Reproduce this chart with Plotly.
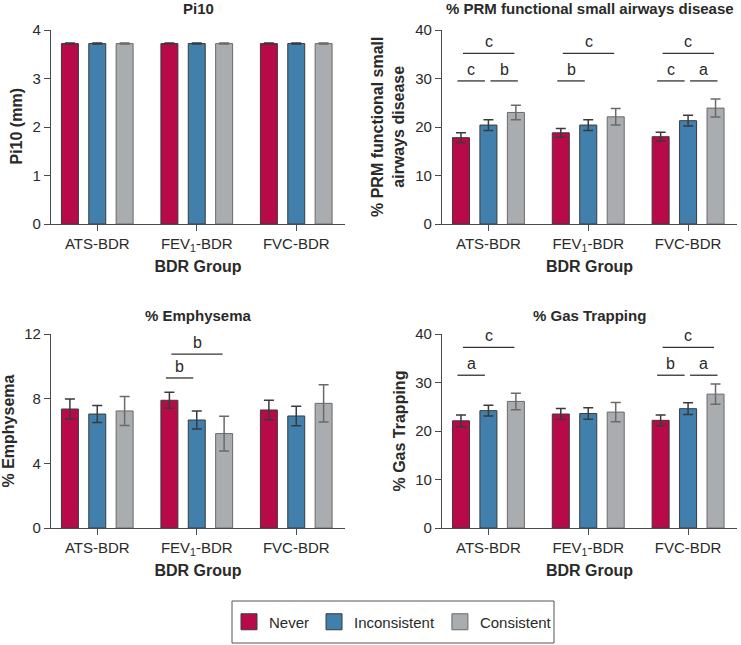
import plotly.graph_objects as go

groups = ["ATS-BDR", "FEV<sub>1</sub>-BDR", "FVC-BDR"]
series = ["Never", "Inconsistent", "Consistent"]
colors = ["#B80A48", "#4180AD", "#A9ADB0"]
line_colors = ["#3a3a3a", "#3a3a3a", "#6a6a6a"]

# values per series (Never, Inconsistent, Consistent) across groups
pi10_mean = [[3.72, 3.72, 3.72], [3.72, 3.72, 3.72], [3.72, 3.72, 3.72]]
pi10_err = [[0.01, 0.01, 0.01], [0.01, 0.01, 0.01], [0.01, 0.01, 0.01]]

prm_mean = [[17.8, 18.8, 18.0], [20.4, 20.4, 21.3], [23.0, 22.1, 23.9]]
prm_err = [[1.0, 0.9, 0.9], [1.1, 1.1, 1.1], [1.5, 1.7, 1.85]]

emph_mean = [[7.36, 7.9, 7.3], [7.05, 6.68, 6.93], [7.24, 5.84, 7.71]]
emph_err = [[0.62, 0.5, 0.6], [0.53, 0.55, 0.6], [0.9, 1.07, 1.15]]

gas_mean = [[22.1, 23.5, 22.2], [24.2, 23.6, 24.6], [26.1, 23.9, 27.6]]
gas_err = [[1.2, 1.15, 1.1], [1.1, 1.2, 1.2], [1.7, 2.0, 2.1]]

# significance brackets: (group index, from bar, to bar, y of line, letter)
prm_sig = [(0, 0, 1, 29.5, "c"), (0, 1, 2, 29.5, "b"), (0, 0, 2, 35.2, "c"),
           (1, 0, 1, 29.5, "b"), (1, 0, 2, 35.2, "c"),
           (2, 0, 1, 29.5, "c"), (2, 1, 2, 29.5, "a"), (2, 0, 2, 35.2, "c")]
emph_sig = [(1, 0, 1, 9.28, "b"), (1, 0, 2, 10.76, "b")]
gas_sig = [(0, 0, 1, 31.5, "a"), (0, 0, 2, 37.25, "c"),
           (2, 0, 1, 31.5, "b"), (2, 1, 2, 31.5, "a"), (2, 0, 2, 37.25, "c")]

panel_titles = ["Pi10", "% PRM functional small airways disease", "% Emphysema", "% Gas Trapping"]
y_titles = ["Pi10 (mm)", "% PRM functional small<br>airways disease", "% Emphysema", "% Gas Trapping"]
y_max = [4, 40, 12, 40]
y_dtick = [1, 10, 4, 10]
means = [pi10_mean, prm_mean, emph_mean, gas_mean]
errs = [pi10_err, prm_err, emph_err, gas_err]
sigs = [[], prm_sig, emph_sig, gas_sig]

W, H = 741, 645
xdoms = [(51 / W, 345 / W), (442 / W, 737 / W)]
ydoms = [(1 - 224 / H, 1 - 30 / H), (1 - 528 / H, 1 - 334 / H)]
title_y = [1 - 9 / H, 1 - 315 / H]
ytitle_shift = [-25, -33, -33, -33]

FONT = "Liberation Sans, Arial, Helvetica, sans-serif"
AXC = "#4a4a4a"
TXT = "#2a2a2a"
BARSTEP = 0.275

fig = go.Figure()
annotations = []
shapes = []

for i in range(4):
    r, c = divmod(i, 2)
    sfx = "" if i == 0 else str(i + 1)
    xa, ya = "x" + sfx, "y" + sfx
    for s in range(3):
        fig.add_trace(go.Bar(
            x=[0, 1, 2], y=means[i][s], name=series[s], xaxis=xa, yaxis=ya,
            marker=dict(color=colors[s], line=dict(color=line_colors[s], width=1)),
            error_y=dict(type="data", array=errs[i][s], color=line_colors[s], thickness=1.5, width=5),
            showlegend=False, offsetgroup=str(s),
        ))
    fig.update_layout({
        "xaxis" + sfx: dict(domain=xdoms[c], anchor=ya, range=[-0.465, 2.49],
                            tickmode="array", tickvals=[0, 1, 2], ticktext=groups,
                            showline=True, linecolor=AXC, linewidth=1.3, ticks="outside",
                            ticklen=6, tickcolor=AXC, showgrid=False, zeroline=False,
                            automargin=False,
                            tickfont=dict(size=15, color=TXT, family=FONT),
                            title=dict(text="<b>BDR Group</b>", standoff=7,
                                       font=dict(size=16, color=TXT, family=FONT))),
        "yaxis" + sfx: dict(domain=ydoms[r], anchor=xa, range=[0, y_max[i]], dtick=y_dtick[i],
                            showline=True, linecolor=AXC, linewidth=1.3, ticks="outside",
                            ticklen=6, tickcolor=AXC, showgrid=False, zeroline=False,
                            automargin=False,
                            tickfont=dict(size=15, color=TXT, family=FONT)),
    })
    # panel title
    xc = (xdoms[c][0] + xdoms[c][1]) / 2
    annotations.append(dict(text="<b>%s</b>" % panel_titles[i], xref="paper", yref="paper",
                            x=xc, y=title_y[r], yanchor="middle", xanchor="center",
                            showarrow=False, font=dict(size=15, color=TXT, family=FONT)))
    # y title
    yc = (ydoms[r][0] + ydoms[r][1]) / 2
    annotations.append(dict(text="<b>%s</b>" % y_titles[i], xref="paper", yref="paper",
                            x=xdoms[c][0], xshift=ytitle_shift[i], y=yc, xanchor="right",
                            yanchor="middle", textangle=-90, showarrow=False,
                            font=dict(size=16, color=TXT, family=FONT)))
    # significance brackets
    for (g, a, b, yl, letter) in sigs[i]:
        xa0 = g + (a - 1) * BARSTEP
        xb0 = g + (b - 1) * BARSTEP
        if b - a == 1:
            adj = -0.035 if a == 0 else 0.02
            x0, x1 = xa0 + adj, xb0 + adj
        else:
            x0, x1 = xa0 + 0.02, xb0 - 0.015
        shapes.append(dict(type="line", xref=xa, yref=ya, x0=x0, x1=x1, y0=yl, y1=yl,
                           line=dict(color="#333333", width=1.3)))
        annotations.append(dict(text=letter, xref=xa, yref=ya, x=(x0 + x1) / 2, y=yl,
                                yanchor="bottom", yshift=1, showarrow=False,
                                font=dict(size=16, color=TXT, family=FONT)))

# legend frame
shapes.append(dict(type="rect", xref="paper", yref="paper",
                   x0=232 / W, x1=554 / W, y0=1 - 643 / H, y1=1 - 601 / H,
                   line=dict(color="#555555", width=1), fillcolor="rgba(0,0,0,0)"))

# legend entries (square swatches)
for s in range(3):
    fig.add_trace(go.Scatter(
        x=[None], y=[None], mode="markers", name=series[s],
        marker=dict(symbol="square", size=16, color=colors[s],
                    line=dict(color=line_colors[s], width=1)),
        showlegend=True,
    ))

fig.update_layout(
    width=W, height=H, margin=dict(l=0, r=0, t=0, b=0, autoexpand=False),
    paper_bgcolor="white", plot_bgcolor="white",
    barmode="group", bargap=0.175, bargroupgap=0.38,
    annotations=annotations, shapes=shapes,
    legend=dict(orientation="h", x=393 / W, xanchor="center", y=1 - 622 / H, yanchor="middle",
                borderwidth=0, bgcolor="rgba(0,0,0,0)",
                font=dict(size=15, color=TXT, family=FONT), itemsizing="trace",
                itemwidth=30, tracegroupgap=0),
    font=dict(family=FONT, color=TXT),
)

fig.write_html("out.html", config={"displayModeBar": False},
               post_script="document.body.style.margin='0';document.body.style.overflow='hidden';")
